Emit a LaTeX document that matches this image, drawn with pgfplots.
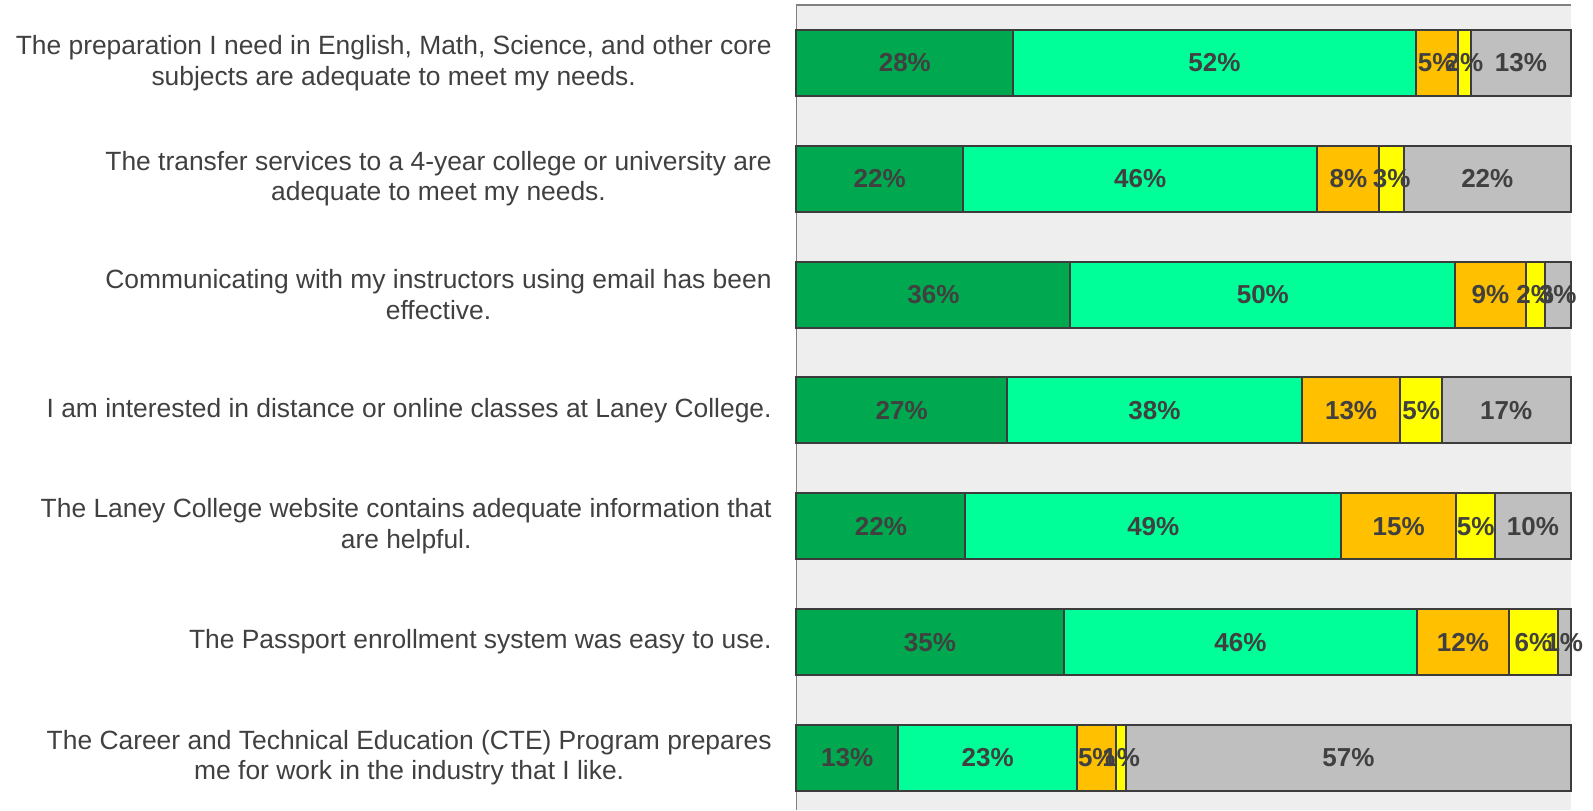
\documentclass[border=0pt]{standalone}
\usepackage{pgfplots}
\pgfplotsset{compat=1.18}
\usepackage{fontspec}
\setmainfont{Liberation Sans}
\definecolor{dg}{HTML}{00A94F}
\definecolor{mint}{HTML}{00FF99}
\definecolor{org}{HTML}{FFC000}
\definecolor{yel}{HTML}{FFFF00}
\definecolor{gry}{HTML}{BFBFBF}
\definecolor{bord}{HTML}{3C3C3C}
\definecolor{txt}{HTML}{404040}
\definecolor{bg}{HTML}{EEEEEE}
\begin{document}
\begin{tikzpicture}
\begin{axis}[
  at={(0,0)}, anchor=north west,
  scale only axis,
  width=387pt, height=402.5pt,
  xbar stacked,
  bar width=33pt,
  xmin=0, xmax=100,
  ymin=-0.5, ymax=6.45,
  y dir=reverse,
  axis line style={draw=none},
  axis background/.style={fill=bg},
  xtick=\empty,
  ytick={0,1,2,3,4,5,6},
  yticklabels={
    {The preparation I need in English, Math, Science, and other core\\subjects are adequate to meet my needs.},
    {The transfer services to a 4-year college or university are\\adequate to meet my needs.},
    {Communicating with my instructors using email has been\\effective.},
    {I am interested in distance or online classes at Laney College.},
    {The Laney College website contains adequate information that\\are helpful.},
    {The Passport enrollment system was easy to use.},
    {The Career and Technical Education (CTE) Program prepares\\me for work in the industry that I like.}},
  major tick length=0pt,
  yticklabel style={align=center, anchor=east, inner sep=0pt, xshift=-12.25pt,
    font=\fontsize{13.2}{15.25}\selectfont, text=txt},
  point meta=explicit symbolic,
  nodes near coords,
  nodes near coords style={anchor=center,
    font=\fontsize{13}{15}\selectfont\bfseries, text=txt},
  every axis plot/.append style={draw=bord, line width=1pt},
  clip=false,
]
\addplot[fill=dg] coordinates {(28.0,0) [28\%] (21.5,1) [22\%] (35.4,2) [36\%] (27.2,3) [27\%] (21.8,4) [22\%] (34.5,5) [35\%] (13.1,6) [13\%]};
\addplot[fill=mint] coordinates {(52.0,0) [52\%] (45.8,1) [46\%] (49.7,2) [50\%] (38.1,3) [38\%] (48.6,4) [49\%] (45.7,5) [46\%] (23.2,6) [23\%]};
\addplot[fill=org] coordinates {(5.4,0) [5\%] (8.0,1) [8\%] (9.1,2) [9\%] (12.7,3) [13\%] (14.8,4) [15\%] (11.8,5) [12\%] (5.0,6) [5\%]};
\addplot[fill=yel] coordinates {(1.8,0) [2\%] (3.2,1) [3\%] (2.5,2) [2\%] (5.4,3) [5\%] (5.1,4) [5\%] (6.4,5) [6\%] (1.3,6) [1\%]};
\addplot[fill=gry] coordinates {(12.8,0) [13\%] (21.5,1) [22\%] (3.3,2) [3\%] (16.6,3) [17\%] (9.7,4) [10\%] (1.6,5) [1\%] (57.4,6) [57\%]};
\draw[color=gray, line width=0.6pt] (axis cs:0,-0.5) -- (axis cs:100,-0.5);
\draw[color=gray, line width=0.6pt] (axis cs:0,-0.5) -- (axis cs:0,6.45);
\end{axis}
\pgfresetboundingbox
\path (-398.25pt,2.5pt) rectangle (398.25pt,-402.5pt);
\end{tikzpicture}
\end{document}
